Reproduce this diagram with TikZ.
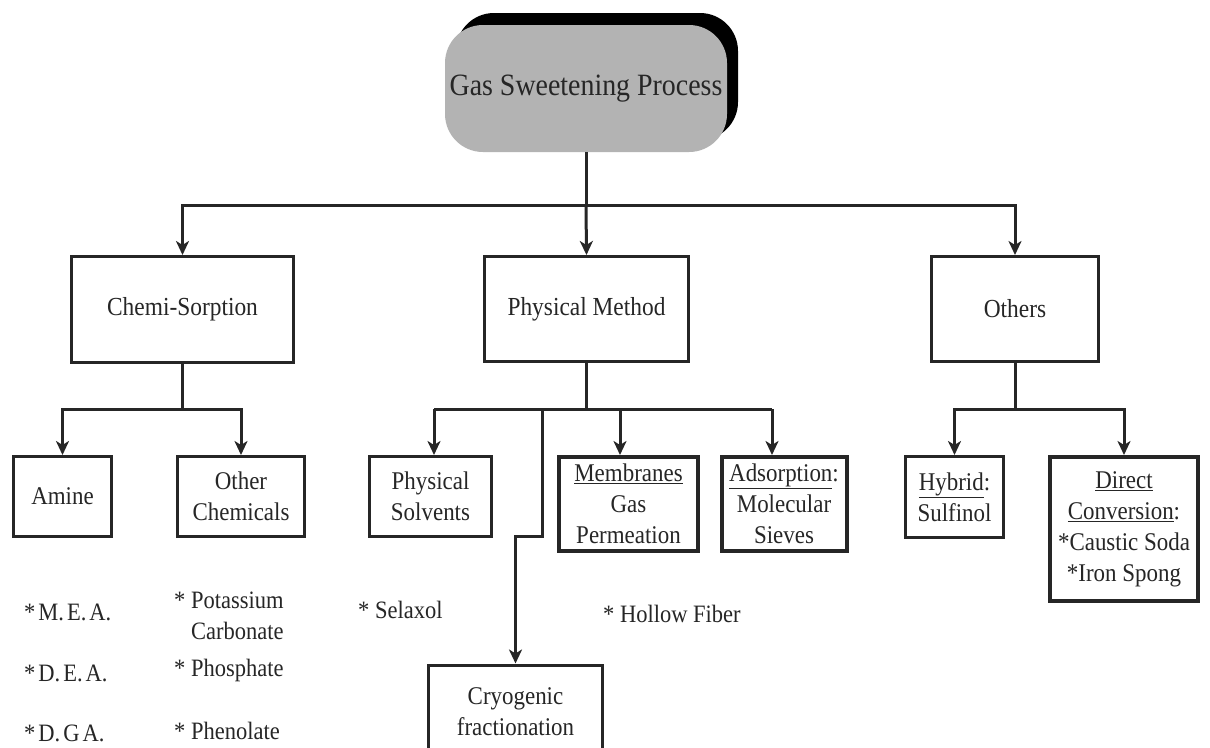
\documentclass[tikz,border=0pt]{standalone}
\usepackage{fontspec}
\setmainfont{Liberation Serif}[FakeStretch=0.9]
\usetikzlibrary{arrows.meta,shadows}
\definecolor{ink}{HTML}{262626}
\definecolor{rootfill}{HTML}{B3B3B3}
\newcommand{\nsp}{\hspace{3pt}}

\begin{document}
\begin{tikzpicture}[x=1pt,y=-1pt,
  conn/.style={draw=ink, line width=3pt},
  arr/.style={conn, -{Stealth[length=14pt,width=13pt,inset=4pt]}},
  box/.style={draw=ink, line width=3pt, align=center, inner sep=0pt, text=ink},
  thickbox/.style={box, line width=4pt},
  lvltwo/.style={box, font=\fontsize{26}{31}\selectfont},
  lvlthree/.style={box, font=\fontsize{25.5}{31}\selectfont},
  lvlthreeb/.style={thickbox, font=\fontsize{25.5}{31}\selectfont},
  item/.style={anchor=west, inner sep=0pt, align=left, text=ink, font=\fontsize{25}{31}\selectfont},
]
\useasboundingbox (0,0) rectangle (1210,747);
\fill[white] (0,0) rectangle (1210,747);

% root node with its dark offset shadow
\node[rounded corners=38pt, fill=rootfill, minimum width=282pt, minimum height=127pt,
      text=ink, font=\fontsize{31}{36}\selectfont,
      drop shadow={shadow xshift=11pt, shadow yshift=12pt, fill=black, opacity=1}]
  (root) at (586,88.5) {Gas Sweetening Process};

% second level
\node[lvltwo, minimum width=222pt, minimum height=106pt] (chemi) at (182.5,309.5) {Chemi-Sorption};
\node[lvltwo, minimum width=204pt, minimum height=105pt] (phys) at (586.5,309) {Physical Method};
\node[lvltwo, minimum width=167pt, minimum height=105pt] (others) at (1015,309) {Others};

% third level
\node[lvlthree, minimum width=98pt, minimum height=80pt] (amine) at (62.5,496.5) {Amine};
\node[lvlthree, minimum width=127pt, minimum height=80pt] (otherchem) at (241,496.5) {Other\\Chemicals};
\node[lvlthree, minimum width=122pt, minimum height=80pt] (physsolv) at (430.5,496.5) {Physical\\Solvents};
\node[lvlthreeb, minimum width=139pt, minimum height=94pt] (membr) at (628.5,504) {\underline{Membranes}\\Gas\\Permeation};
\node[lvlthreeb, minimum width=125pt, minimum height=94pt] (adsorp) at (784,504) {\underline{Adsorption}:\\Molecular\\Sieves};
\node[lvlthree, minimum width=98pt, minimum height=81pt] (hybrid) at (954.5,497) {\underline{Hybrid}:\\Sulfinol};
\node[lvlthreeb, minimum width=148pt, minimum height=144pt] (direct) at (1124,529) {\underline{Direct}\\\underline{Conversion}:\\*Caustic Soda\\*Iron Spong};
\node[lvlthree, minimum width=174pt, minimum height=94pt] (cryo) at (515.5,712) {Cryogenic\\fractionation};

% listed processes
\node[item] (mea) at (24,612) {*\nsp M.\nsp E.\nsp A.};
\node[item] (dea) at (24,673) {*\nsp D.\nsp E.\nsp A.};
\node[item] (dga) at (24,733) {*\nsp D.\nsp G\nsp A.};
\node[item, anchor=north west] (pot) at (174,592) {* Potassium\\\hphantom{* }Carbonate};
\node[item] (phos) at (174,670) {* Phosphate};
\node[item] (phen) at (174,731) {* Phenolate};
\node[item] (selax) at (358,610) {* Selaxol};
\node[item] (hollow) at (603,614) {* Hollow Fiber};

% junction points
\coordinate (j0) at (586,205);
\coordinate (jc) at (182.5,409);
\coordinate (jp) at (586.5,409);
\coordinate (jo) at (1015,409);
\coordinate (cryoTop) at (542,409);
\coordinate (cryoBend) at (542,536);

% root to second level
\draw[conn] (root.south) -- (j0);
\draw[arr] (j0) -| (chemi.north);
\draw[arr] (j0) -- (phys.north);
\draw[arr] (j0) -| (others.north);

% chemi-sorption branch
\draw[conn] (chemi.south) -- (jc);
\draw[arr] (jc) -| (amine.north);
\draw[arr] (jc) -| (otherchem.north);

% physical method branch
\draw[conn] (phys.south) -- (jp);
\coordinate (aPS) at (434,409);
\coordinate (aMB) at (620,409);
\coordinate (aAD) at (772,409);
\draw[conn] (aPS) -- (aAD);
\draw[arr] (aPS) -- (aPS |- physsolv.north);
\draw[arr] (aMB) -- (aMB |- membr.north);
\draw[arr] (aAD) -- (aAD |- adsorp.north);
\draw[arr] (cryoTop) -- (cryoBend) -| (cryo.north);

% others branch
\draw[conn] (others.south) -- (jo);
\draw[arr] (jo) -| (hybrid.north);
\draw[arr] (jo) -| (direct.north);
\end{tikzpicture}
\end{document}
